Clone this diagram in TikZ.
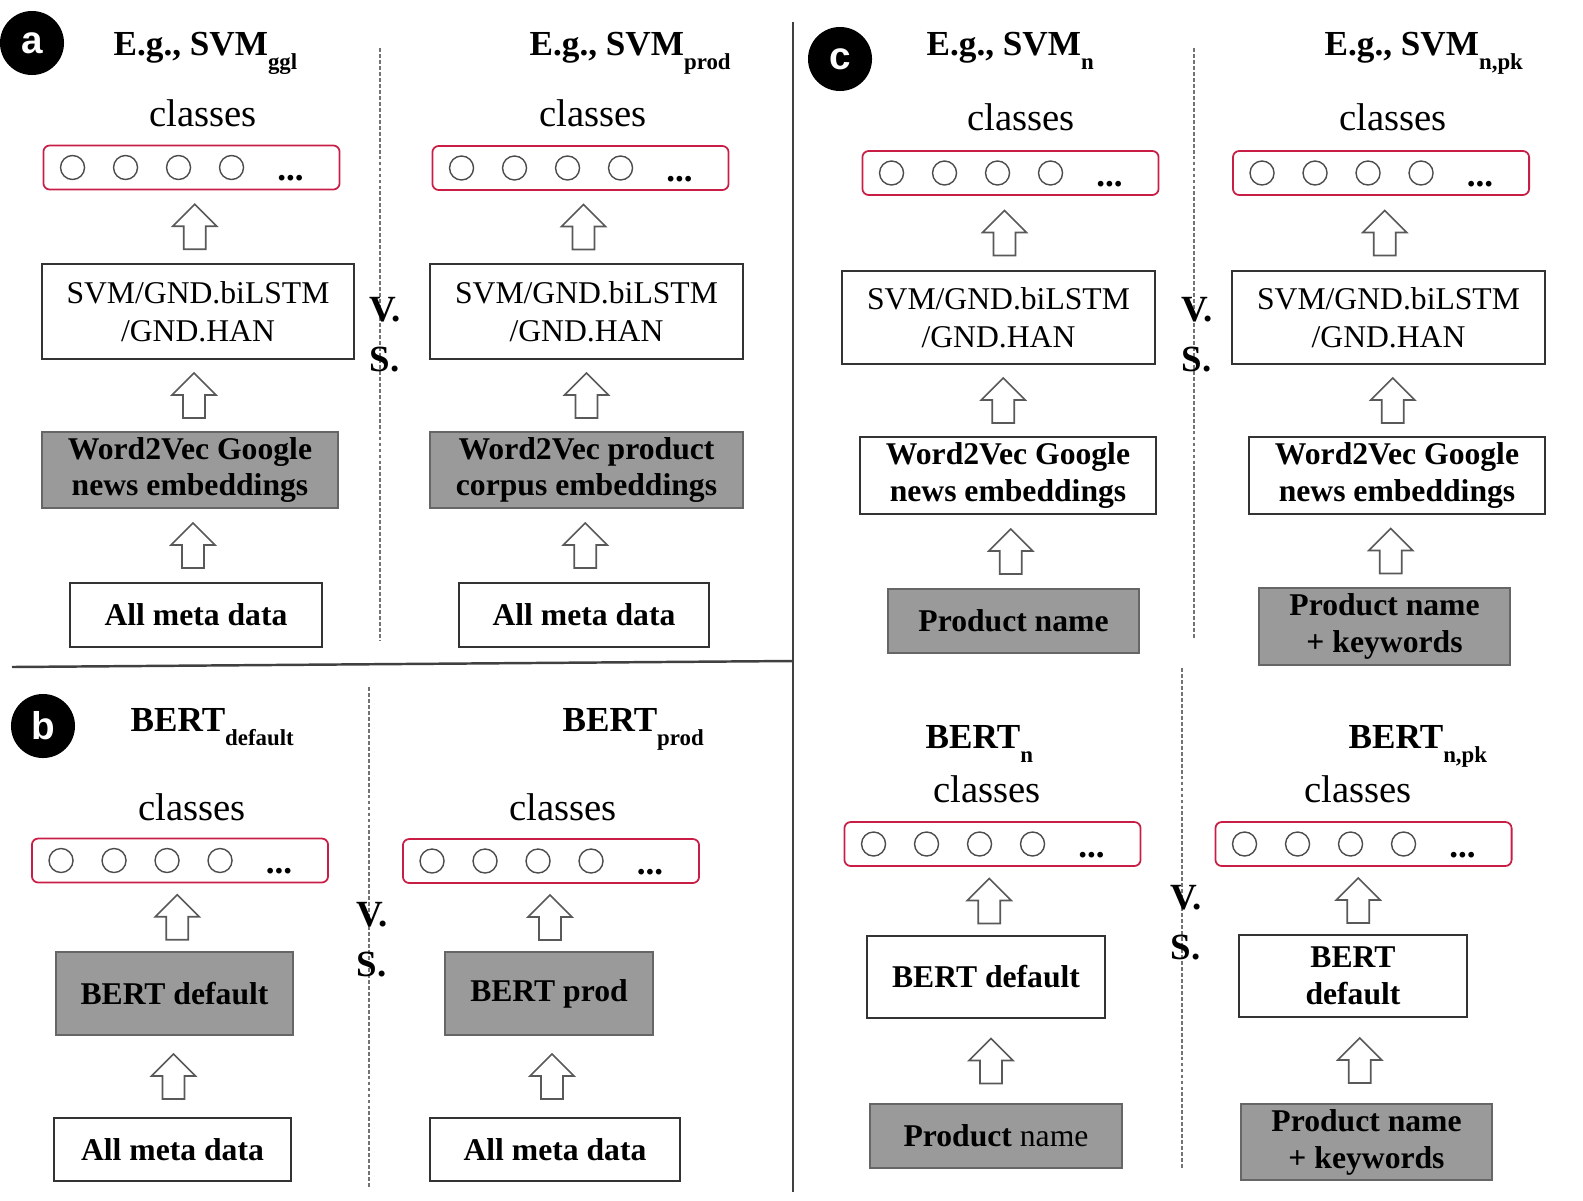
\documentclass[tikz,border=0pt]{standalone}
\usepackage{fontspec}
\setmainfont{Liberation Serif}
\newfontfamily\tagfont{Liberation Sans}
\usetikzlibrary{calc}

\definecolor{crimson}{RGB}{200,30,70}
\definecolor{boxgray}{RGB}{154,154,154}

% lowered subscript of the titles
\newcommand{\lowsub}[1]{\raisebox{-4pt}{\fontsize{6.5}{7}\selectfont #1}}

% output layer: red box with four units and dots
\newcommand{\classrow}[3]{%
    \node[classbox] (#1) at (#2,#3) {};
    \foreach \i in {0,...,3}
        \node[unit] at ($(#1.west)+({30+53*\i},0)$) {};
    \node[dots] at ($(#1.west)+(248,11)$) {...};
}

% hollow block arrow from lower node up to upper node
\newcommand{\upblock}[2]{%
    \path ($(#1.north)!0.5!(#2.south)$) coordinate (mid);
    \draw[blockarrow] ($(mid)+(0,-22.5)$) -- ++(22,22) -- ++(-11,0) -- ++(0,23)
        -- ++(-22,0) -- ++(0,-23) -- ++(-11,0) -- cycle;
}

\tikzset{
    classbox/.style={draw=crimson, line width=0.5pt, rounded corners=1.8pt,
        minimum width=2.96cm, minimum height=0.44cm, inner sep=0},
    unit/.style={circle, draw=black!70, line width=0.4pt, minimum size=0.24cm, inner sep=0},
    dots/.style={inner sep=0, font=\fontsize{10}{12}\selectfont\bfseries},
    basebox/.style={draw=black!80, line width=0.5pt, fill=white, align=center, inner sep=0},
    plainbox/.style={basebox, font=\fontsize{9}{10.8}\selectfont},
    boldbox/.style={basebox, font=\fontsize{9}{10.5}\selectfont\bfseries},
    greybox/.style={boldbox, fill=boxgray, draw=black!60},
    blockarrow/.style={draw=black!65, fill=white, line width=0.45pt},
    title/.style={anchor=base west, inner sep=0, font=\fontsize{10}{12}\selectfont\bfseries},
    classlbl/.style={anchor=base, inner sep=0, font=\fontsize{11}{13}\selectfont},
    vs/.style={anchor=north west, align=left, inner sep=0, font=\fontsize{10.5}{14.2}\selectfont\bfseries},
    tag/.style={circle, fill=black, text=white, minimum size=0.64cm, inner sep=0,
        font=\tagfont\fontsize{11}{13}\selectfont\bfseries},
    frame/.style={draw=black!75, line width=0.7pt},
    sepdash/.style={draw=black!55, line width=0.4pt, dash pattern=on 1.1pt off 0.6pt}
}

\begin{document}
\begin{tikzpicture}[x=0.01cm, y=-0.01cm]
    \useasboundingbox (0,0) rectangle (1583,1200);

    % frame lines
    \draw[frame] (12,667) -- (792,661);
    \draw[frame] (793,22) -- (793,1192);
    \draw[sepdash] (380,48) -- (380,640);
    \draw[sepdash] (1194,48) -- (1194,638);
    \draw[sepdash] (369,687) -- (369,1187);
    \draw[sepdash] (1182,668) -- (1182,1168);

    % Panel a, left
    \node[tag] (tag-a) at (32,43) {a};
    \node[title] (ttl-a1) at (113,55) {E.g., SVM\lowsub{ggl}};
    \node[classlbl] (lbl-a1) at (203,126) {classes};
    \classrow{cls-a1}{191.5}{167.5}
    \node[plainbox, minimum width=3.12cm, minimum height=0.95cm] (mdl-a1) at (198,311.5) {SVM/GND.biLSTM\\/GND.HAN};
    \node[greybox, minimum width=2.96cm, minimum height=0.76cm] (emb-a1) at (190,470) {Word2Vec Google\\news embeddings};
    \node[boldbox, minimum width=2.52cm, minimum height=0.64cm] (inp-a1) at (196,615) {All meta data};
    \upblock{mdl-a1}{cls-a1}
    \upblock{emb-a1}{mdl-a1}
    \upblock{inp-a1}{emb-a1}
    \node[vs] (vs-a) at (369,297) {V.\\S.};

    % Panel a, right
    \node[title] (ttl-a2) at (529,55) {E.g., SVM\lowsub{prod}};
    \node[classlbl] (lbl-a2) at (593,126) {classes};
    \classrow{cls-a2}{580.5}{168}
    \node[plainbox, minimum width=3.13cm, minimum height=0.95cm] (mdl-a2) at (586.5,311.5) {SVM/GND.biLSTM\\/GND.HAN};
    \node[greybox, minimum width=3.13cm, minimum height=0.76cm] (emb-a2) at (586.5,470) {Word2Vec product\\corpus embeddings};
    \node[boldbox, minimum width=2.50cm, minimum height=0.64cm] (inp-a2) at (584,615) {All meta data};
    \upblock{mdl-a2}{cls-a2}
    \upblock{emb-a2}{mdl-a2}
    \upblock{inp-a2}{emb-a2}

    % Panel c, left
    \node[tag] (tag-c) at (840,59) {c};
    \node[title] (ttl-c1) at (926,55) {E.g., SVM\lowsub{n}};
    \node[classlbl] (lbl-c1) at (1021,130) {classes};
    \classrow{cls-c1}{1010.5}{173}
    \node[plainbox, minimum width=3.13cm, minimum height=0.93cm] (mdl-c1) at (998.5,317.5) {SVM/GND.biLSTM\\/GND.HAN};
    \node[boldbox, minimum width=2.96cm, minimum height=0.77cm] (emb-c1) at (1008,475.5) {Word2Vec Google\\news embeddings};
    \node[greybox, minimum width=2.51cm, minimum height=0.64cm] (inp-c1) at (1013.5,621) {Product name};
    \upblock{mdl-c1}{cls-c1}
    \upblock{emb-c1}{mdl-c1}
    \upblock{inp-c1}{emb-c1}
    \node[vs] (vs-c) at (1181,297) {V.\\S.};

    % Panel c, right
    \node[title] (ttl-c2) at (1324,55) {E.g., SVM\lowsub{n,pk}};
    \node[classlbl] (lbl-c2) at (1393,130) {classes};
    \classrow{cls-c2}{1381}{173}
    \node[plainbox, minimum width=3.13cm, minimum height=0.93cm] (mdl-c2) at (1388.5,317.5) {SVM/GND.biLSTM\\/GND.HAN};
    \node[boldbox, minimum width=2.96cm, minimum height=0.77cm] (emb-c2) at (1397,475.5) {Word2Vec Google\\news embeddings};
    \node[greybox, minimum width=2.51cm, minimum height=0.77cm] (inp-c2) at (1384.5,626.5) {Product name\\+ keywords};
    \upblock{mdl-c2}{cls-c2}
    \upblock{emb-c2}{mdl-c2}
    \upblock{inp-c2}{emb-c2}

    % Panel b, left
    \node[tag] (tag-b) at (43,726) {b};
    \node[title] (ttl-b1) at (130,731) {BERT\lowsub{default}};
    \node[classlbl] (lbl-b1) at (192,820) {classes};
    \classrow{cls-b1}{180}{860.5}
    \node[greybox, minimum width=2.37cm, minimum height=0.83cm] (mdl-b1) at (174.5,993.5) {BERT default};
    \node[boldbox, minimum width=2.37cm, minimum height=0.63cm] (inp-b1) at (172.5,1149.5) {All meta data};
    \upblock{mdl-b1}{cls-b1}
    \upblock{inp-b1}{mdl-b1}
    \node[vs] (vs-b) at (356,902) {V.\\S.};

    % Panel b, right
    \node[title] (ttl-b2) at (562,731) {BERT\lowsub{prod}};
    \node[classlbl] (lbl-b2) at (563,820) {classes};
    \classrow{cls-b2}{551}{861}
    \node[greybox, minimum width=2.08cm, minimum height=0.83cm] (mdl-b2) at (549,993.5) {BERT prod};
    \node[boldbox, minimum width=2.50cm, minimum height=0.63cm] (inp-b2) at (555,1149.5) {All meta data};
    \upblock{mdl-b2}{cls-b2}
    \upblock{inp-b2}{mdl-b2}

    % Panel d, left
    \node[title] (ttl-d1) at (925,748) {BERT\lowsub{n}};
    \node[classlbl] (lbl-d1) at (987,802) {classes};
    \classrow{cls-d1}{992.5}{844}
    \node[boldbox, minimum width=2.38cm, minimum height=0.82cm] (mdl-d1) at (986,977) {BERT default};
    \node[greybox, minimum width=2.52cm, minimum height=0.64cm] (inp-d1) at (996,1136) {Product \textmd{name}};
    \upblock{mdl-d1}{cls-d1}
    \upblock{inp-d1}{mdl-d1}
    \node[vs] (vs-d) at (1170,885) {V.\\S.};

    % Panel d, right
    \node[title] (ttl-d2) at (1348,748) {BERT\lowsub{n,pk}};
    \node[classlbl] (lbl-d2) at (1358,802) {classes};
    \classrow{cls-d2}{1363.5}{844}
    \node[boldbox, minimum width=2.28cm, minimum height=0.82cm] (mdl-d2) at (1353,976) {BERT\\default};
    \node[greybox, minimum width=2.51cm, minimum height=0.76cm] (inp-d2) at (1366.5,1142) {Product name\\+ keywords};
    \upblock{mdl-d2}{cls-d2}
    \upblock{inp-d2}{mdl-d2}
\end{tikzpicture}
\end{document}
